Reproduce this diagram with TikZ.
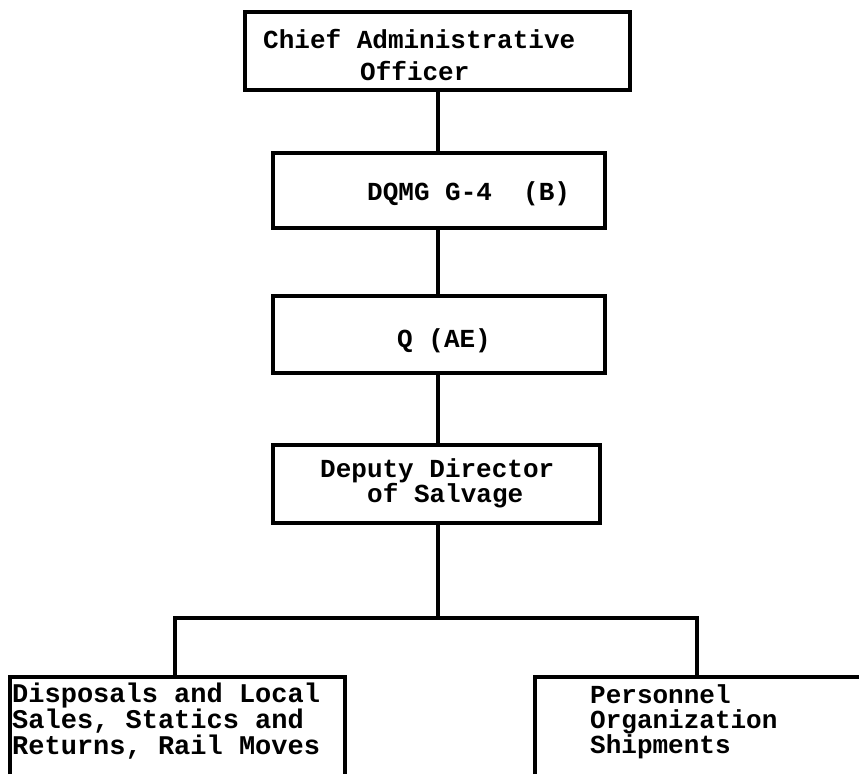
\documentclass[tikz,border=0pt]{standalone}
\usepackage{fontspec}
\setmonofont{Liberation Mono}
\begin{document}
\begin{tikzpicture}[x=1pt,y=-1pt,
  box/.style={draw, line width=4pt, rectangle, inner sep=0pt},
  link/.style={line width=4pt},
  txt/.style={anchor=base west, inner sep=0pt, font=\fontsize{26}{28}\selectfont\ttfamily\bfseries},
  btxt/.style={anchor=west, inner sep=0pt, align=left}]
\useasboundingbox (0,0) rectangle (859,774);
% boxes
\node[box, minimum width=385pt, minimum height=78pt] (cao) at (437.5,51) {};
\node[box, minimum width=332pt, minimum height=75pt] (dqmg) at (439,190.5) {};
\node[box, minimum width=332pt, minimum height=77pt] (q) at (439,334.5) {};
\node[box, minimum width=327pt, minimum height=78pt] (dep) at (436.5,484) {};
% texts
\node[txt] (t1) at (263,48) {Chief Administrative};
\node[txt] (t2) at (360,80) {Officer};
\node[txt] (t3) at (367,200) {DQMG G-4\ \ (B)};
\node[txt] (t4) at (397,347) {Q (AE)};
\node[txt] (t5) at (320,477) {Deputy Director};
\node[txt] (t6) at (367,502) {of Salvage};
\node[btxt, font=\fontsize{27}{24}\selectfont\ttfamily\bfseries] (tl) at (12,721)
  {Disposals and Local\\Sales, Statics and\\Returns, Rail Moves};
\node[btxt, font=\fontsize{26}{25}\selectfont\ttfamily\bfseries] (tr) at (590,722)
  {Personnel\\Organization\\Shipments};
% connectors
\draw[link] (cao.south) -- (cao.south |- dqmg.north);
\draw[link] (cao.south |- dqmg.south) -- (cao.south |- q.north);
\draw[link] (cao.south |- q.south) -- (cao.south |- dep.north);
\coordinate (bar) at (437.5,618);
\coordinate (lb) at (175,618);
\coordinate (rb) at (697,618);
\coordinate (ltop) at (175,677);
\coordinate (rtop) at (697,677);
\draw[link] (bar |- dep.south) -- (bar);
\draw[link] (ltop) -- (lb) -- (rb) -- (rtop);
% open bottom boxes
\coordinate (l1) at (10,774);
\coordinate (l2) at (10,677);
\coordinate (l3) at (345,677);
\coordinate (l4) at (345,774);
\draw[link, line join=miter] (l1) -- (l2) -- (l3) -- (l4);
\coordinate (r1) at (535,774);
\coordinate (r2) at (535,677);
\coordinate (r3) at (859,677);
\draw[link, line join=miter] (r1) -- (r2) -- (r3);
\end{tikzpicture}
\end{document}
